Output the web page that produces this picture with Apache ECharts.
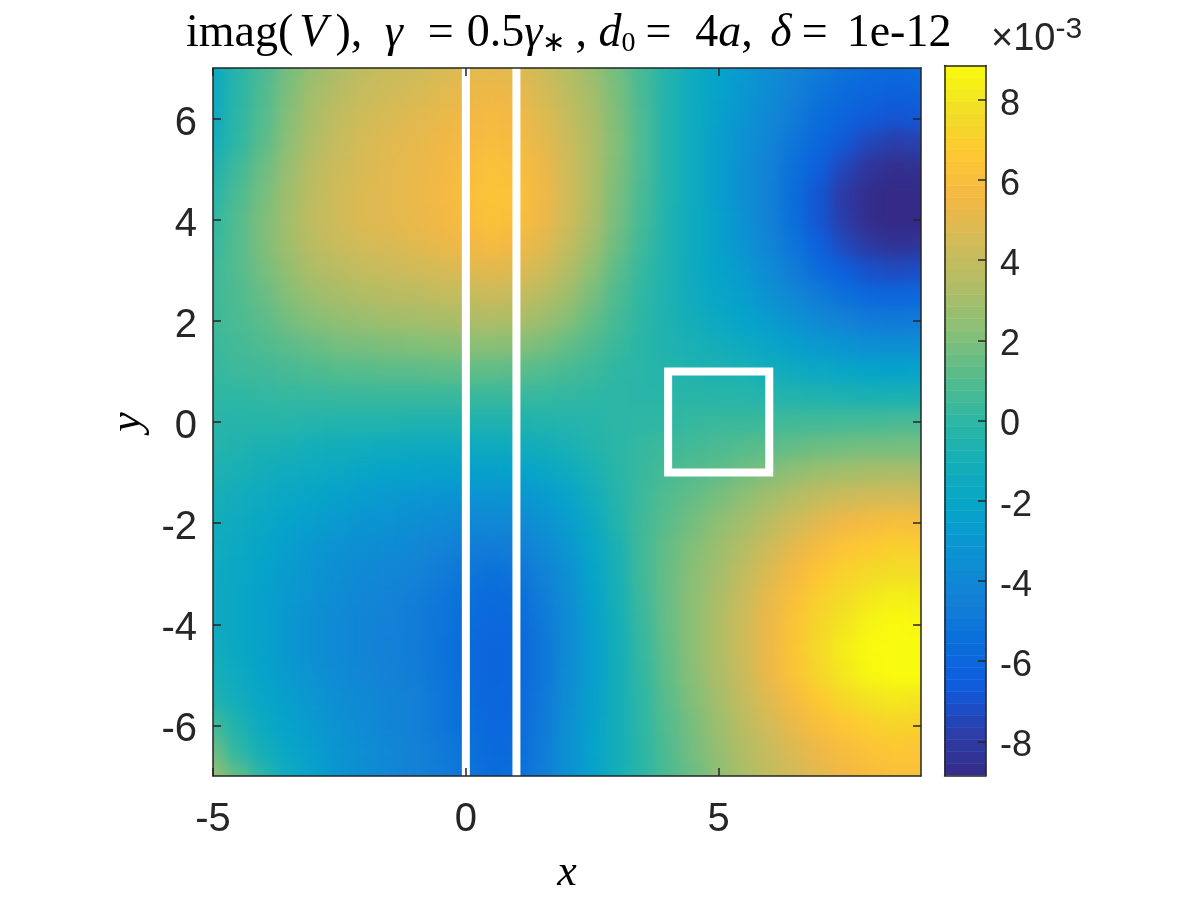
<!DOCTYPE html>
<html>
<head>
<meta charset="utf-8">
<style>
  html, body { margin: 0; padding: 0; background: #fff; }
  #main { position: absolute; left: 0; top: 0; width: 1200px; height: 900px; }
  #heatClip { position: absolute; left: 213px; top: 68px; width: 708px; height: 708px; overflow: hidden; }
  #heat { position: absolute; left: -60px; top: -60px; width: 828px; height: 828px; filter: blur(8px); }
</style>
<script src="https://cdn.jsdelivr.net/npm/echarts@6/dist/echarts.min.js"></script>
</head>
<body>
<div id="heatClip"><div id="heat"></div></div>
<div id="main"></div>
<script>
const xValues = [-5,-4.5,-4,-3.5,-3,-2.5,-2,-1.5,-1,-0.5,0,0.5,1,1.5,2,2.5,3,3.5,4,4.5,5,5.5,6,6.5,7,7.5,8,8.5,9]
const yValues = [7,6.5,6,5.5,5,4.5,4,3.5,3,2.5,2,1.5,1,0.5,0,-0.5,-1,-1.5,-2,-2.5,-3,-3.5,-4,-4.5,-5,-5.5,-6,-6.5,-7]
// values in units of 1e-3, one row per entry of yValues
const heatRows = [
  [-1.8,-0.3,0.7,1.8,2.7,3.3,3.8,4.1,4.3,4.6,4.9,5,4.9,4.3,3.5,2.7,1.7,0.6,-0.5,-1.4,-2.2,-2.9,-3.6,-4.2,-4.8,-5.3,-5.6,-5.8,-5.6],
  [-1.7,-0.2,0.9,2,3,3.6,4.1,4.4,4.6,4.9,5.2,5.4,5.3,4.6,3.8,3,1.9,0.7,-0.5,-1.5,-2.3,-3,-3.8,-4.5,-5.2,-5.7,-6.1,-6.3,-6.2],
  [-1.6,-0.1,1,2.2,3.2,3.9,4.4,4.7,4.9,5.2,5.5,5.7,5.6,4.9,4.1,3.2,2,0.8,-0.5,-1.5,-2.4,-3.2,-4,-4.8,-5.6,-6.2,-6.7,-6.9,-6.8],
  [-1.2,0,1.2,2.4,3.4,4.1,4.6,4.9,5.1,5.4,5.7,5.9,5.8,5.1,4.3,3.3,2.1,0.8,-0.5,-1.5,-2.5,-3.4,-4.2,-5.1,-6,-6.8,-7.5,-7.8,-7.7],
  [-0.7,0.5,1.6,2.7,3.7,4.3,4.7,5,5.2,5.5,5.9,6.2,6.1,5.4,4.4,3.3,2,0.8,-0.5,-1.5,-2.5,-3.5,-4.4,-5.4,-6.5,-7.5,-8.3,-8.6,-8.5],
  [-0.3,0.8,1.8,2.9,3.8,4.4,4.8,5,5.2,5.6,6,6.3,6.3,5.5,4.5,3.3,1.9,0.7,-0.5,-1.5,-2.5,-3.5,-4.5,-5.6,-6.9,-8,-8.7,-8.85,-8.85],
  [0,1,2,3,3.9,4.4,4.8,5,5.2,5.5,5.9,6.2,6.1,5.4,4.4,3.2,1.8,0.6,-0.6,-1.5,-2.4,-3.4,-4.4,-5.5,-6.9,-7.9,-8.7,-8.85,-8.85],
  [0.2,1,2,2.9,3.7,4.2,4.5,4.7,4.9,5.2,5.5,5.7,5.6,5,4,2.9,1.6,0.4,-0.6,-1.5,-2.4,-3.2,-4.2,-5.2,-6.4,-7.4,-8.1,-8.4,-8.3],
  [0.4,1,1.8,2.6,3.3,3.7,4,4.2,4.4,4.6,4.8,5,4.9,4.4,3.5,2.4,1.2,0.2,-0.7,-1.5,-2.2,-2.9,-3.8,-4.7,-5.7,-6.5,-7.1,-7.3,-7.2],
  [0.4,0.9,1.5,2.2,2.8,3.1,3.4,3.6,3.7,3.9,4,4.2,4.1,3.6,2.9,1.9,0.9,0,-0.7,-1.4,-2,-2.6,-3.3,-4.1,-4.8,-5.4,-5.9,-6,-5.9],
  [0.4,0.8,1.2,1.8,2.2,2.5,2.7,2.9,3,3.1,3.2,3.3,3.2,2.8,2.2,1.4,0.6,-0.1,-0.7,-1.2,-1.7,-2.2,-2.7,-3.3,-3.9,-4.4,-4.8,-4.9,-4.8],
  [0.3,0.6,0.9,1.2,1.5,1.8,1.9,2,2.1,2.2,2.3,2.3,2.2,1.9,1.4,0.9,0.3,-0.2,-0.6,-0.9,-1.2,-1.6,-2,-2.5,-2.9,-3.2,-3.5,-3.6,-3.5],
  [0.2,0.4,0.5,0.7,0.9,1,1.1,1.2,1.2,1.3,1.3,1.3,1.2,1,0.7,0.4,0,-0.2,-0.4,-0.6,-0.7,-0.9,-1.2,-1.5,-1.8,-2,-2.2,-2.3,-2.2],
  [0,0,0.1,0.2,0.2,0.3,0.3,0.3,0.3,0.3,0.3,0.3,0.3,0.2,0.1,0,-0.1,-0.2,-0.2,-0.2,-0.3,-0.3,-0.4,-0.5,-0.6,-0.7,-0.8,-0.8,-0.8],
  [-0.2,-0.3,-0.3,-0.3,-0.4,-0.5,-0.5,-0.5,-0.6,-0.6,-0.6,-0.6,-0.6,-0.5,-0.4,-0.3,-0.1,0,0,0.2,0.3,0.3,0.4,0.5,0.5,0.6,0.6,0.7,0.7],
  [-0.4,-0.6,-0.8,-0.9,-1.1,-1.2,-1.3,-1.4,-1.5,-1.5,-1.5,-1.5,-1.4,-1.2,-0.9,-0.5,-0.1,0.2,0.4,0.6,0.8,1,1.2,1.4,1.6,1.7,1.8,1.8,1.8],
  [-0.7,-0.9,-1.2,-1.4,-1.6,-1.8,-2,-2.2,-2.3,-2.4,-2.4,-2.4,-2.3,-2,-1.5,-0.9,-0.2,0.3,0.7,1,1.3,1.7,2.1,2.5,2.8,3,3.1,3.2,3.1],
  [-1,-1.3,-1.6,-1.9,-2.1,-2.4,-2.7,-2.9,-3.1,-3.2,-3.3,-3.3,-3.2,-2.8,-2.2,-1.3,-0.4,0.4,1,1.4,1.9,2.4,3,3.5,4,4.3,4.5,4.6,4.5],
  [-1.2,-1.5,-1.9,-2.3,-2.6,-2.9,-3.2,-3.4,-3.6,-3.8,-4,-4,-3.9,-3.4,-2.7,-1.7,-0.5,0.5,1.2,1.8,2.4,3,3.7,4.4,5,5.5,5.8,6,5.9],
  [-1.4,-1.7,-2.1,-2.6,-3,-3.3,-3.6,-3.8,-4,-4.3,-4.6,-4.7,-4.6,-4,-3.1,-2,-0.8,0.5,1.4,2.1,2.8,3.5,4.3,5.1,5.8,6.4,6.8,7,6.9],
  [-1.5,-1.8,-2.3,-2.8,-3.2,-3.6,-3.9,-4.1,-4.3,-4.7,-5.1,-5.3,-5.2,-4.5,-3.5,-2.2,-0.9,0.5,1.5,2.3,3,3.9,4.8,5.7,6.5,7.1,7.5,7.7,7.7],
  [-1.5,-1.9,-2.4,-2.9,-3.4,-3.8,-4.1,-4.3,-4.6,-5,-5.4,-5.7,-5.6,-4.8,-3.7,-2.4,-1,0.4,1.5,2.4,3.2,4.2,5.2,6.1,7,7.6,8.1,8.4,8.3],
  [-1.5,-1.9,-2.4,-3,-3.5,-3.9,-4.2,-4.4,-4.7,-5.1,-5.6,-5.9,-5.8,-5,-3.8,-2.5,-1.1,0.3,1.5,2.4,3.3,4.3,5.3,6.3,7.3,8,8.6,8.8,8.7],
  [-1.3,-1.8,-2.4,-3,-3.5,-3.9,-4.2,-4.5,-4.7,-5.2,-5.7,-6.1,-6,-5.1,-3.9,-2.6,-1.2,0.2,1.4,2.4,3.3,4.3,5.3,6.4,7.5,8.3,8.8,8.85,8.85],
  [-1,-1.6,-2.2,-2.8,-3.4,-3.8,-4.1,-4.4,-4.6,-5.1,-5.7,-6.1,-6,-5.1,-3.8,-2.6,-1.2,0.1,1.3,2.3,3.2,4.2,5.3,6.3,7.3,8.1,8.7,8.85,8.85],
  [-0.6,-1.3,-2,-2.6,-3.1,-3.6,-3.9,-4.2,-4.5,-5,-5.6,-6,-5.9,-5,-3.7,-2.5,-1.2,0,1.2,2.1,3,4,4.9,5.8,6.7,7.4,7.9,8.1,8],
  [0.5,-0.6,-1.7,-2.3,-2.9,-3.4,-3.8,-4.2,-4.5,-5,-5.5,-5.9,-5.8,-4.9,-3.6,-2.4,-1.2,0,1,1.9,2.8,3.7,4.5,5.3,6,6.6,7,7.2,7.1],
  [1.6,0,-1.1,-2,-2.6,-3.2,-3.6,-4,-4.4,-4.8,-5.3,-5.8,-5.7,-4.8,-3.5,-2.3,-1.2,-0.1,0.9,1.8,2.6,3.4,4.1,4.8,5.4,5.9,6.3,6.5,6.4],
  [2.6,1.2,-0.2,-1.6,-2.4,-3.2,-3.7,-4.1,-4.4,-4.7,-5.1,-5.6,-5.5,-4.7,-3.6,-2.4,-1.1,-0.1,0.8,1.6,2.4,3.2,3.9,4.5,5,5.5,5.9,6.1,6.1]
]
const colorbarLevels = [-8.7,-8.4,-8.1,-7.8,-7.5,-7.2,-6.9,-6.6,-6.3,-6,-5.7,-5.4,-5.1,-4.8,-4.5,-4.2,-3.9,-3.6,-3.3,-3,-2.7,-2.4,-2.1,-1.8,-1.5,-1.2,-0.9,-0.6,-0.3,0,0.3,0.6,0.9,1.2,1.5,1.8,2.1,2.4,2.7,3,3.3,3.6,3.9,4.2,4.5,4.8,5.1,5.4,5.7,6,6.3,6.6,6.9,7.2,7.5,7.8,8.1,8.4,8.7]
const xTicks = [-5, 0, 5]
const yTicks = [-6, -4, -2, 0, 2, 4, 6]
const colorbarTicks = [-8, -6, -4, -2, 0, 2, 4, 6, 8]
const slitLeft = [[0, -7], [0, 7]]
const slitRight = [[1, -7], [1, 7]]
const boxLine = [[5, 1], [6, 1], [6, -1], [4, -1], [4, 1], [5, 1]]
const parula = ['#352a87', '#2a3fab', '#0f5cdd', '#0a6edb', '#1481d6', '#0c92d2', '#06a4ca', '#14aeb9', '#2eb7a4',
  '#57bc8c', '#87bf77', '#b0bd66', '#d1bb59', '#f3b845', '#fec832', '#f1df25', '#f9fb0e']

const heatData = []
heatRows.forEach((row, j) => {
  row.forEach((v, i) => heatData.push([xValues[i], yValues[j], v]))
})
const barData = colorbarLevels.map(v => [0, v, v])

const textColor = '#262626'
const sans = '"Liberation Sans", Arial, sans-serif'
const serif = '"Liberation Serif", "Times New Roman", serif'

function axisCommon (ticks) {
  return {
    z: 5,
    axisLine: { show: true, onZero: false, lineStyle: { color: textColor, width: 1.5 } },
    axisTick: { show: true, inside: true, length: 8, customValues: ticks, lineStyle: { color: textColor, width: 1.5 } },
    axisLabel: { show: true, customValues: ticks, color: textColor, fontFamily: sans, fontSize: 40, margin: 18 },
    splitLine: { show: false }
  }
}
function mirrored (axis) {
  return Object.assign({}, axis, { axisLabel: { show: false } })
}
function frameAxis (gridIndex, min, max, position) {
  return { type: 'value', gridIndex, min, max, position, z: 5,
    axisLine: { show: true, onZero: false, lineStyle: { color: textColor, width: 1.5 } },
    axisTick: { show: false }, axisLabel: { show: false }, splitLine: { show: false } }
}
function titleStyle (italic, pad) {
  return { fontFamily: serif, fontWeight: 'normal', fontStyle: italic ? 'italic' : 'normal', fontSize: 46, color: '#000', lineHeight: 48, padding: pad || 0 }
}

const colorScale = {
  show: false, type: 'continuous', min: -8.85, max: 8.85, dimension: 2, seriesIndex: [0],
  inRange: { color: parula }
}

// the field sits in its own chart under the axes: cells come from the table, CSS blur smooths the steps.
// border cells run on past the frame so the blur has no white edge to pick up
const xEnds = [xValues[0], xValues[xValues.length - 1]]
const yEnds = [yValues[yValues.length - 1], yValues[0]]
const heatChart = echarts.init(document.getElementById('heat'))
heatChart.setOption({
  animation: false,
  grid: { left: 60, top: 60, width: 708, height: 708, outerBoundsMode: 'none' },
  xAxis: { type: 'value', min: -5, max: 9, show: false },
  yAxis: { type: 'value', min: -7, max: 7, show: false },
  visualMap: colorScale,
  series: [{
    type: 'custom', clip: false, silent: true, encode: { x: 0, y: 1 }, data: heatData,
    renderItem: function (params, api) {
      const x = api.value(0)
      const y = api.value(1)
      const left = x === xEnds[0] ? x - 2 : x - 0.25
      const right = x === xEnds[1] ? x + 2 : x + 0.25
      const bottom = y === yEnds[0] ? y - 2 : y - 0.25
      const top = y === yEnds[1] ? y + 2 : y + 0.25
      const a = api.coord([left, top])
      const b = api.coord([right, bottom])
      const c = api.visual('color')
      return { type: 'rect', shape: { x: a[0], y: a[1], width: b[0] - a[0], height: b[1] - a[1] }, style: { fill: c, stroke: c, lineWidth: 1 } }
    }
  }]
})

const whiteLine = { type: 'line', xAxisIndex: 0, yAxisIndex: 0, symbol: 'none', clip: true, z: 3, silent: true,
  lineStyle: { color: '#fff', width: 8, join: 'miter', cap: 'butt' } }

const chart = echarts.init(document.getElementById('main'))
chart.setOption({
  animation: false,
  backgroundColor: 'transparent',
  title: [
    {
      left: 181, top: 5,
      text: '{r|imag(}{v|V}{c1|), }{i|γ}{e1|=}{r|0.5}{i|γ}{s|∗}{c2|, }{i|d}{s|0}{e2|=}{r|4}{i|a}{c3|, }{i|δ}{e3|=}{r|1e-12}',
      textStyle: {
        fontWeight: 'normal',
        rich: {
          r: titleStyle(false),
          i: titleStyle(true),
          v: titleStyle(true, [0, 8, 0, 6]),
          c1: titleStyle(false, [0, 11, 0, 0]),
          c2: titleStyle(false, [0, 0, 0, 10]),
          c3: titleStyle(false, [0, 6, 0, 0]),
          e1: titleStyle(false, [0, 13, 0, 25]),
          e2: titleStyle(false, [0, 24, 0, 10]),
          e3: titleStyle(false, [0, 19, 0, 10]),
          s: { fontFamily: serif, fontWeight: 'normal', fontSize: 28, color: '#000', lineHeight: 48, verticalAlign: 'bottom', padding: [12, 0, 0, 0] }
        }
      }
    },
    {
      left: 986, top: 10,
      text: '{x|×}{n|10}{e|-3}',
      textStyle: {
        fontWeight: 'normal',
        rich: {
          x: { fontFamily: sans, fontWeight: 'normal', fontSize: 38, color: textColor, lineHeight: 50 },
          n: { fontFamily: sans, fontWeight: 'normal', fontSize: 38, color: textColor, lineHeight: 50 },
          e: { fontFamily: sans, fontWeight: 'normal', fontSize: 30, color: textColor, lineHeight: 50, verticalAlign: 'top', padding: [0, 0, 14, 0] }
        }
      }
    }
  ],
  grid: [
    { left: 213, top: 68, width: 708, height: 708, outerBoundsMode: 'none' },
    { left: 944.5, top: 65.5, width: 41.5, height: 710, outerBoundsMode: 'none' }
  ],
  xAxis: [
    Object.assign({}, axisCommon(xTicks), {
      type: 'value', gridIndex: 0, min: -5, max: 9, position: 'bottom',
      axisLabel: { show: true, customValues: xTicks, color: textColor, fontFamily: sans, fontSize: 40, margin: 24 },
      name: 'x', nameLocation: 'middle', nameGap: 75,
      nameTextStyle: { fontFamily: serif, fontStyle: 'italic', fontSize: 44, color: '#000' }
    }),
    Object.assign({}, mirrored(axisCommon(xTicks)), { type: 'value', gridIndex: 0, min: -5, max: 9, position: 'top' }),
    frameAxis(1, 0, 1, 'bottom'),
    frameAxis(1, 0, 1, 'top')
  ],
  yAxis: [
    Object.assign({}, axisCommon(yTicks), {
      type: 'value', gridIndex: 0, min: -7, max: 7, position: 'left',
      axisLabel: { show: true, customValues: yTicks, color: textColor, fontFamily: sans, fontSize: 40, margin: 16,
        verticalAlign: 'top', lineHeight: 40, padding: [-15, 0, 0, 0] },
      name: 'y', nameLocation: 'middle', nameGap: 57,
      nameTextStyle: { fontFamily: serif, fontStyle: 'italic', fontSize: 44, color: '#000' }
    }),
    Object.assign({}, mirrored(axisCommon(yTicks)), { type: 'value', gridIndex: 0, min: -7, max: 7, position: 'right' }),
    Object.assign({}, axisCommon(colorbarTicks), { type: 'value', gridIndex: 1, min: -8.85, max: 8.85, position: 'right',
      axisLabel: { show: true, customValues: colorbarTicks, color: textColor, fontFamily: sans, fontSize: 36, margin: 14,
        verticalAlign: 'top', lineHeight: 36, padding: [-13, 0, 0, 0] } }),
    frameAxis(1, -8.85, 8.85, 'left')
  ],
  visualMap: Object.assign({}, colorScale, { seriesIndex: [0] }),
  series: [
    { type: 'custom', xAxisIndex: 2, yAxisIndex: 2, clip: true, silent: true, z: 1,
      renderItem: function (params, api) {
        const a = api.coord([0, api.value(1) + 0.15])
        const b = api.coord([1, api.value(1) - 0.15])
        const c = api.visual('color')
        return { type: 'rect', shape: { x: a[0], y: a[1], width: b[0] - a[0], height: b[1] - a[1] }, style: { fill: c, stroke: c, lineWidth: 0.5 } }
      },
      encode: { x: 0, y: 1 }, data: barData },
    Object.assign({}, whiteLine, { data: slitLeft }),
    Object.assign({}, whiteLine, { data: slitRight }),
    Object.assign({}, whiteLine, { data: boxLine })
  ]
})
</script>
</body>
</html>
